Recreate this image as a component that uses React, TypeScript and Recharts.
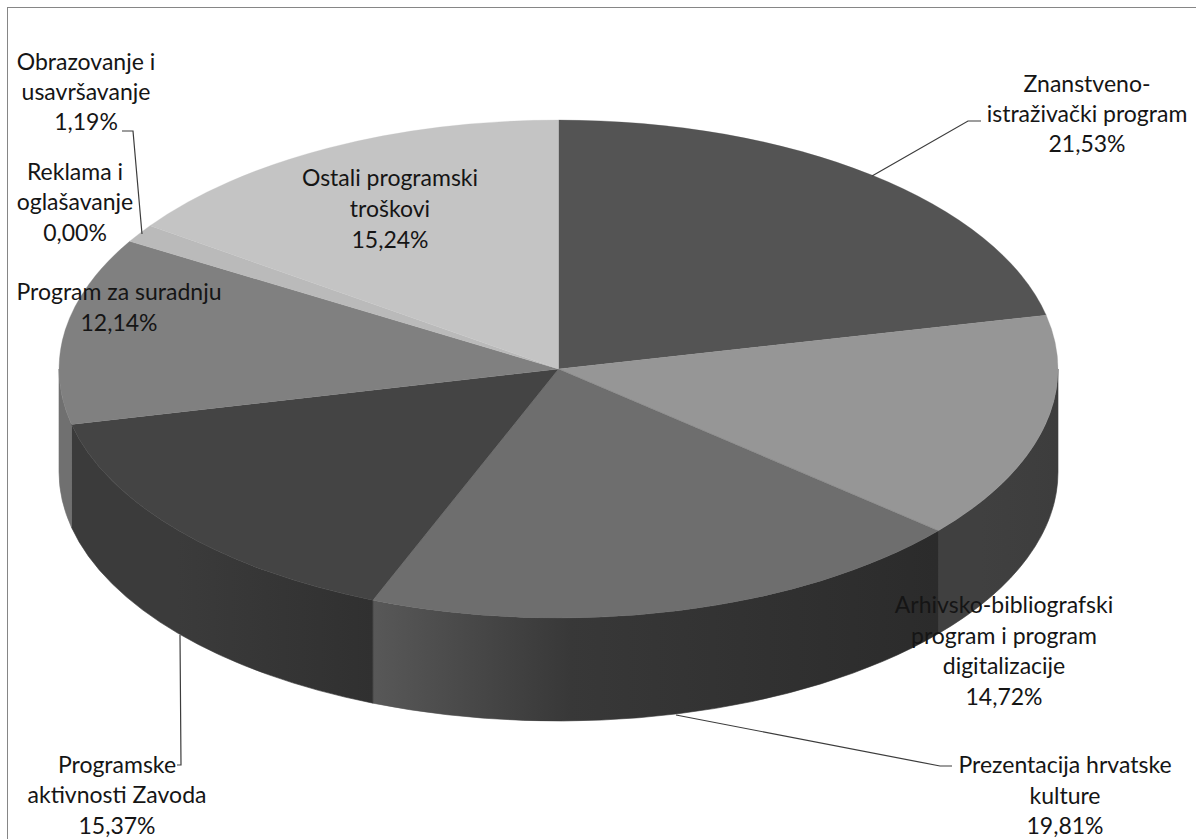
import React from 'react'
import { PieChart, Pie, Cell } from 'recharts'

const categories = [
  'Znanstveno-istraživački program',
  'Arhivsko-bibliografski program i program digitalizacije',
  'Prezentacija hrvatske kulture',
  'Programske aktivnosti Zavoda',
  'Program za suradnju',
  'Obrazovanje i usavršavanje',
  'Reklama i oglašavanje',
  'Ostali programski troškovi',
]
const shares = [21.53, 14.72, 19.81, 15.37, 12.14, 1.19, 0.0, 15.24]
const labelLines = [
  ['Znanstveno-', 'istraživački program'],
  ['Arhivsko-bibliografski', 'program i program', 'digitalizacije'],
  ['Prezentacija hrvatske', 'kulture'],
  ['Programske', 'aktivnosti Zavoda'],
  ['Program za suradnju'],
  ['Obrazovanje i', 'usavršavanje'],
  ['Reklama i', 'oglašavanje'],
  ['Ostali programski', 'troškovi'],
]

const topColors = ['#545454', '#969696', '#6e6e6e', '#444444', '#808080', '#bababa', '#bababa', '#c4c4c4']
const wallStops = [
  ['#3f3f3f', '#3f3f3f'],
  ['#404040', '#3d3d3d'],
  ['#585858', '#2b2b2b'],
  ['#3b3b3b', '#303030'],
  ['#707070', '#707070'],
  ['#888888', '#888888'],
  ['#888888', '#888888'],
  ['#888888', '#888888'],
]

// label anchors: centre x, first baseline, line spacing
const labelPlaces = [
  { x: 1087, y: 92, dy: 30 },
  { x: 1004, y: 613, dy: 30.6 },
  { x: 1065, y: 773, dy: 30.5 },
  { x: 117, y: 773, dy: 30.3 },
  { x: 119, y: 300, dy: 30.6 },
  { x: 86, y: 70, dy: 30.2 },
  { x: 75, y: 180, dy: 30.4 },
  { x: 390, y: 186, dy: 31 },
]
const leaders: (number[][] | null)[] = [
  [[872, 176], [968, 121], [981, 121]],
  null,
  [[676, 715], [940, 766], [952, 766]],
  [[180, 635], [181, 765], [177, 765]],
  null,
  [[122, 131], [133, 131], [142, 234]],
  null,
  null,
]

const CX = 558.5
const CY = 369
const RX = 499.5
const RY = 249
const DEPTH = 103

const chartData = categories.map((name, i) => ({ name, value: shares[i] }))

const pt = (deg: number, off = 0) => {
  const r = (deg * Math.PI) / 180
  return [CX + RX * Math.cos(r), CY - RY * Math.sin(r) + off]
}

const TopSlice = (props: any) => {
  const { startAngle, endAngle, fill } = props
  if (Math.abs(startAngle - endAngle) < 0.01) return <g />
  const [x0, y0] = pt(startAngle)
  const [x1, y1] = pt(endAngle)
  const large = startAngle - endAngle > 180 ? 1 : 0
  return <path d={`M${CX},${CY} L${x0},${y0} A${RX},${RY} 0 ${large} 1 ${x1},${y1} Z`} fill={fill} stroke={fill} strokeWidth={0.3} />
}

const WallSlice = (props: any) => {
  const { startAngle, endAngle, fill } = props
  const from = Math.min(startAngle, 0)
  const to = Math.max(endAngle, -180)
  if (from - to < 0.01) return <g />
  const [x0, y0] = pt(from)
  const [x1, y1] = pt(to)
  const [x2, y2] = pt(to, DEPTH)
  const [x3, y3] = pt(from, DEPTH)
  return (
    <path
      d={`M${x0},${y0} A${RX},${RY} 0 0 1 ${x1},${y1} L${x2},${y2} A${RX},${RY} 0 0 0 ${x3},${y3} Z`}
      fill={fill}
      stroke={fill}
      strokeWidth={0.6}
    />
  )
}

const SliceLabel = (props: any) => {
  const i = props.index
  const place = labelPlaces[i]
  const lines = [...labelLines[i], shares[i].toFixed(2).replace('.', ',') + '%']
  const leader = leaders[i]
  return (
    <g>
      {leader && (
        <polyline points={leader.map((p) => p.join(',')).join(' ')} fill="none" stroke="#3c3c3c" strokeWidth={1.2} />
      )}
      <text textAnchor="middle" fontFamily="Lato" fontSize={23} fill="#151515">
        {lines.map((line, k) => (
          <tspan key={k} x={place.x} y={place.y + k * place.dy}>
            {line}
          </tspan>
        ))}
      </text>
    </g>
  )
}

export default function App() {
  return (
    <div style={{ position: 'fixed', left: 0, top: 0, width: 1196, height: 839, background: '#fff', overflow: 'hidden' }}>
      <div style={{ position: 'absolute', left: 7, top: 7, width: 1200, height: 840, borderLeft: '1px solid #868686', borderTop: '1px solid #868686' }} />
      <div style={{ position: 'absolute', left: 0, top: 0 }}>
        <PieChart width={1196} height={839} margin={{ top: 0, right: 0, bottom: 0, left: 0 }}>
          <defs>
            {wallStops.map((s, i) => (
              <linearGradient key={i} id={`wall${i}`} x1="0" y1="0" x2="1" y2="0">
                <stop offset="0" stopColor={s[0]} />
                <stop offset="0.35" stopColor={i === 2 ? '#383838' : s[0]} />
                <stop offset="1" stopColor={s[1]} />
              </linearGradient>
            ))}
          </defs>
          <Pie
            data={chartData}
            dataKey="value"
            nameKey="name"
            cx={CX}
            cy={CY}
            innerRadius={0}
            outerRadius={RX}
            startAngle={90}
            endAngle={-270}
            stroke="none"
            shape={WallSlice}
            isAnimationActive={false}
          >
            {categories.map((c, i) => (
              <Cell key={c} fill={`url(#wall${i})`} />
            ))}
          </Pie>
          <Pie
            data={chartData}
            dataKey="value"
            nameKey="name"
            cx={CX}
            cy={CY}
            innerRadius={0}
            outerRadius={RX}
            startAngle={90}
            endAngle={-270}
            stroke="none"
            shape={TopSlice}
            label={SliceLabel}
            labelLine={false}
            isAnimationActive={false}
          >
            {categories.map((c, i) => (
              <Cell key={c} fill={topColors[i]} />
            ))}
          </Pie>
        </PieChart>
      </div>
    </div>
  )
}
